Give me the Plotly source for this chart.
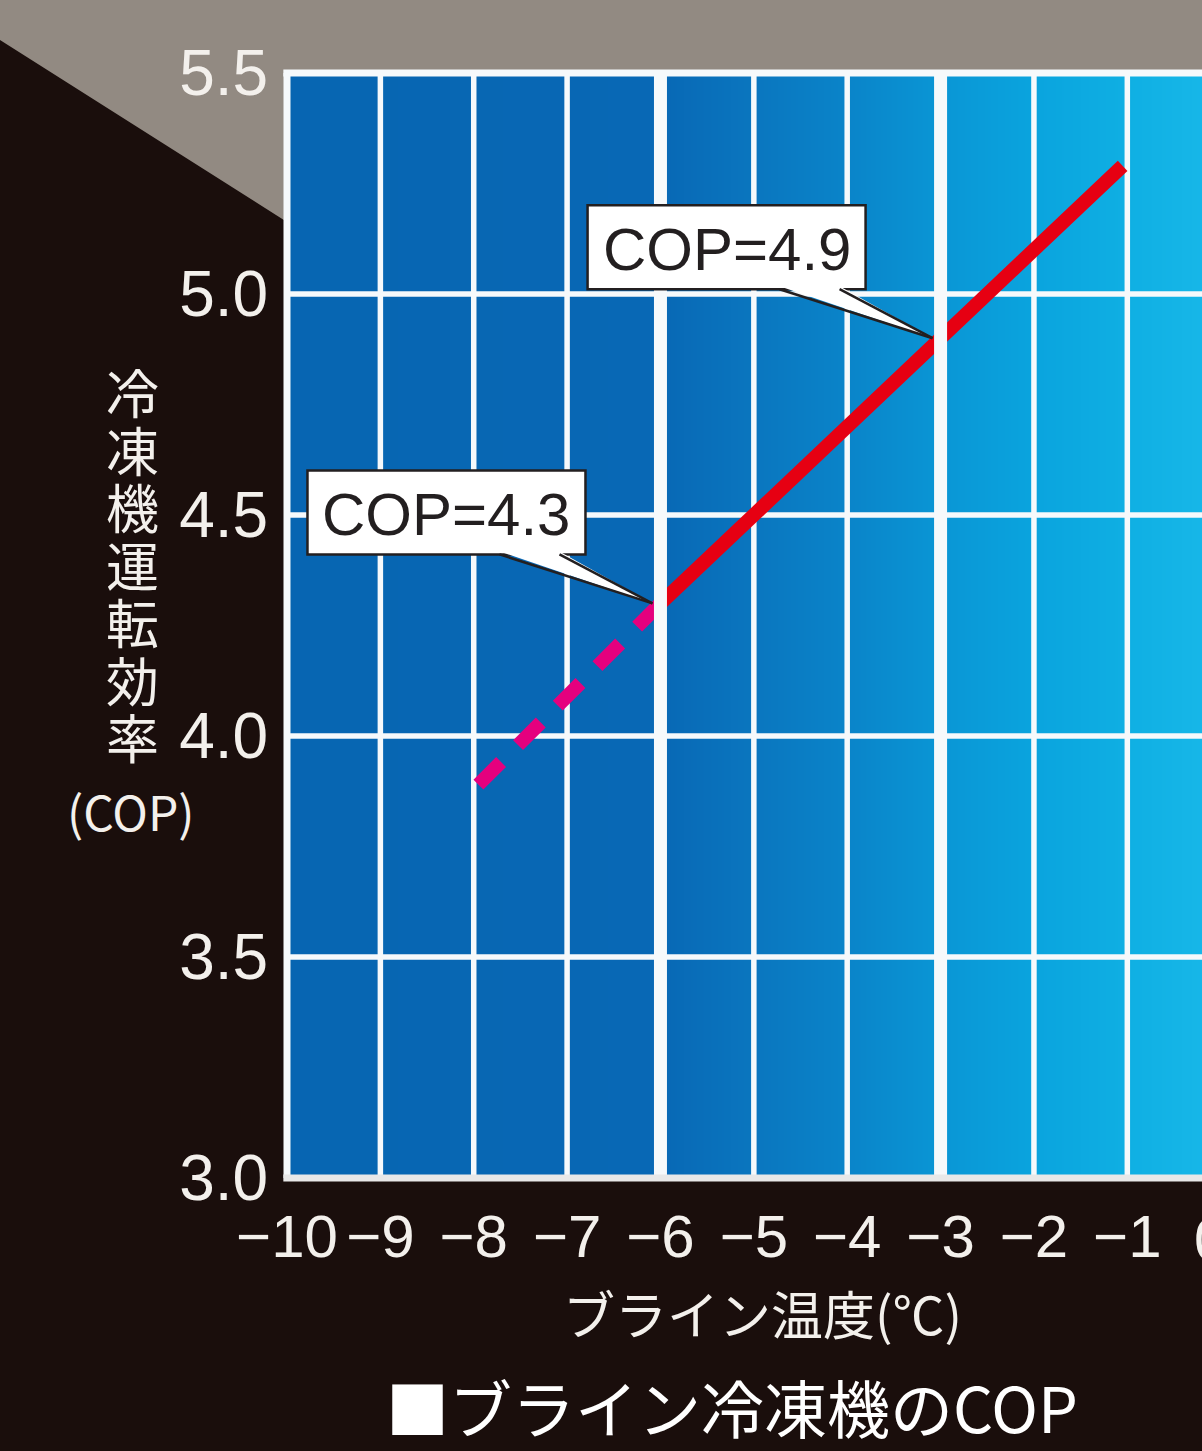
import plotly.graph_objects as go

# ---- data -------------------------------------------------------------
# brine temperature (°C) ticks and COP ticks
X_TICKS = [-10, -9, -8, -7, -6, -5, -4, -3, -2, -1, 0]
X_TICK_TEXT = ["−10", "−9", "−8", "−7", "−6", "−5", "−4", "−3", "−2", "−1", "0"]
Y_TICKS = [3.0, 3.5, 4.0, 4.5, 5.0, 5.5]
Y_TICK_TEXT = ["3.0", "3.5", "4.0", "4.5", "5.0", "5.5"]

# COP of the brine chiller: operating range (solid) and extension (dashed)
SOLID_T = [-6, -3, -1.05]
SOLID_COP = [4.3, 4.9, 5.29]
DASH_T = [-7.95, -6]
DASH_COP = [3.89, 4.3]

# highlighted operating points
CALLOUT_T = [-6, -3]
CALLOUT_COP = [4.3, 4.9]
CALLOUT_TEXT = ["COP=4.3", "COP=4.9"]

# emphasised vertical grid lines
MAJOR_T = [-6, -3]

# background shading stops (temperature -> colour)
BG_T = [-10.5, -6, -5, -4, -3, -2, -1, 0.5]
BG_COLORS = ["#0765b1", "#0868b5", "#0a76bf", "#0a84c9", "#0a96d5",
             "#0aa4de", "#0fafe3", "#1dbdec"]

Y_TITLE_CHARS = ["冷", "凍", "機", "運", "転", "効", "率"]

# ---- geometry -----------------------------------------------------------
W, H = 1202, 1451
L, T, B, R = 287, 73, 273, 0
X_RANGE = [-10, -0.2]
Y_RANGE = [3.0, 5.5]
PW, PH = W - L - R, H - T - B
SX = PW / (X_RANGE[1] - X_RANGE[0])
SY = PH / (Y_RANGE[1] - Y_RANGE[0])

BG_DARK = "#1a0e0c"
GREY = "#928a82"
WHITE = "#f6f9fb"
TEXT_LIGHT = "#f3f0ec"
LATIN = "Liberation Sans, Arial, sans-serif"
CJK = "Noto Sans CJK JP, sans-serif"


def px_x(v):
    return L + (v - X_RANGE[0]) * SX


def px_y(v):
    return T + (Y_RANGE[1] - v) * SY


def pap_x(px):
    return (px - L) / PW


def pap_y(py):
    return (T + PH - py) / PH


fig = go.Figure()

# shaded plot background
lo, hi = BG_T[0], BG_T[-1]
scale = [[(t - lo) / (hi - lo), c] for t, c in zip(BG_T, BG_COLORS)]
fig.add_trace(go.Heatmap(
    x=BG_T, y=[2.9, 5.6], z=[BG_T, BG_T], colorscale=scale,
    zmin=lo, zmax=hi, zsmooth="best", showscale=False, hoverinfo="skip"))

# thin grid lines
gx, gy = [], []
for t in X_TICKS[1:-1]:
    gx += [t, t, None]
    gy += [Y_RANGE[0], Y_RANGE[1], None]
for c in Y_TICKS[1:-1]:
    gx += [X_RANGE[0], X_RANGE[1], None]
    gy += [c, c, None]
fig.add_trace(go.Scatter(x=gx, y=gy, mode="lines",
                         line=dict(color=WHITE, width=5.5),
                         hoverinfo="skip", showlegend=False))

# COP lines
fig.add_trace(go.Scatter(x=DASH_T, y=DASH_COP, mode="lines",
                         line=dict(color="#e5007e", width=14, dash="32px,24px"),
                         showlegend=False))
fig.add_trace(go.Scatter(x=SOLID_T, y=SOLID_COP, mode="lines",
                         line=dict(color="#e60012", width=14),
                         showlegend=False))

shapes = []

# grey backdrop in the upper-left corner
poly = [(0, 0), (W, 0), (W, T), (L, T), (L, 222), (0, 40)]
path = "M " + " L ".join(f"{pap_x(a):.5f},{pap_y(b):.5f}" for a, b in poly) + " Z"
shapes.append(dict(type="path", xref="paper", yref="paper", path=path,
                   fillcolor=GREY, line=dict(width=0), layer="below"))

# emphasised vertical lines
for t in MAJOR_T:
    xp = pap_x(px_x(t))
    shapes.append(dict(type="line", xref="paper", yref="paper", x0=xp, x1=xp,
                       y0=0, y1=1, line=dict(color=WHITE, width=13), layer="above"))

# plot frame: left, top, bottom
shapes.append(dict(type="line", xref="paper", yref="paper", x0=0, x1=0,
                   y0=0, y1=1, line=dict(color=WHITE, width=7), layer="above"))
shapes.append(dict(type="line", xref="paper", yref="paper", x0=-0.004, x1=1,
                   y0=1, y1=1, line=dict(color=WHITE, width=7), layer="above"))
shapes.append(dict(type="line", xref="paper", yref="paper", x0=-0.004, x1=1,
                   y0=0, y1=0, line=dict(color="#e8e8e8", width=7), layer="above"))

annotations = []

# callout boxes with pointers
EDGE = "#231f20"
for t, c, txt in zip(CALLOUT_T, CALLOUT_COP, CALLOUT_TEXT):
    tx, ty = px_x(t) - 8, px_y(c)
    left, right = tx - 345, tx - 67
    top, bottom = ty - 133, ty - 49
    bl, br = tx - 153, tx - 93
    shapes.append(dict(type="rect", xref="paper", yref="paper",
                       x0=pap_x(left), x1=pap_x(right),
                       y0=pap_y(bottom), y1=pap_y(top),
                       fillcolor="white", line=dict(color=EDGE, width=2.5),
                       layer="above"))
    wedge = (f"M {pap_x(bl):.5f},{pap_y(bottom - 3):.5f} "
             f"L {pap_x(tx):.5f},{pap_y(ty):.5f} "
             f"L {pap_x(br):.5f},{pap_y(bottom - 3):.5f} Z")
    shapes.append(dict(type="path", xref="paper", yref="paper", path=wedge,
                       fillcolor="white", line=dict(width=0), layer="above"))
    for bx in (bl, br):
        shapes.append(dict(type="line", xref="paper", yref="paper",
                           x0=pap_x(bx), y0=pap_y(bottom), x1=pap_x(tx), y1=pap_y(ty),
                           line=dict(color=EDGE, width=2.5), layer="above"))
    annotations.append(dict(text=txt, xref="paper", yref="paper",
                            x=pap_x((left + right) / 2), y=pap_y((top + bottom) / 2 + 2),
                            xanchor="center", yanchor="middle", showarrow=False,
                            font=dict(family=LATIN, size=60, color=EDGE)))

# tick label for 0 sits just past the right edge
annotations.append(dict(text=X_TICK_TEXT[-1], xref="paper", yref="paper",
                        x=pap_x(px_x(X_TICKS[-1]) - 10), y=pap_y(1239),
                        xanchor="center", yanchor="middle", showarrow=False,
                        font=dict(family=LATIN, size=60, color=TEXT_LIGHT)))

# vertical y-axis title
y0 = 391
for i, ch in enumerate(Y_TITLE_CHARS):
    annotations.append(dict(text=ch, xref="paper", yref="paper",
                            x=pap_x(132), y=pap_y(y0 + i * 57.5),
                            xanchor="center", yanchor="middle", showarrow=False,
                            font=dict(family=CJK, size=53, color=TEXT_LIGHT)))
annotations.append(dict(text="(COP)", xref="paper", yref="paper",
                        x=pap_x(131), y=pap_y(810), xanchor="center", yanchor="middle",
                        showarrow=False, font=dict(family=CJK, size=48, color=TEXT_LIGHT)))

# x-axis title
annotations.append(dict(text="ブライン温度(℃)", xref="paper", yref="paper",
                        x=pap_x(762), y=pap_y(1312), xanchor="center", yanchor="middle",
                        showarrow=False, font=dict(family=CJK, size=52, color=TEXT_LIGHT)))

# chart caption
annotations.append(dict(text="■ブライン冷凍機のCOP", xref="paper", yref="paper",
                        x=pap_x(732), y=pap_y(1405), xanchor="center", yanchor="middle",
                        showarrow=False, font=dict(family=CJK, size=63, color="white")))

fig.update_layout(
    width=W, height=H,
    margin=dict(l=L, r=R, t=T, b=B, pad=0),
    paper_bgcolor=BG_DARK, plot_bgcolor=BG_DARK,
    showlegend=False,
    shapes=shapes, annotations=annotations,
    xaxis=dict(range=X_RANGE, tickvals=X_TICKS[:-1], ticktext=X_TICK_TEXT[:-1],
               showgrid=False, zeroline=False, showline=False,
               ticks="outside", ticklen=6, tickcolor="rgba(0,0,0,0)",
               tickfont=dict(family=LATIN, size=60, color=TEXT_LIGHT)),
    yaxis=dict(range=Y_RANGE, tickvals=Y_TICKS, ticktext=Y_TICK_TEXT,
               showgrid=False, zeroline=False, showline=False,
               ticks="outside", ticklen=5, tickcolor="rgba(0,0,0,0)",
               tickfont=dict(family=LATIN, size=64, color=TEXT_LIGHT)),
)

fig.write_html("out.html")
